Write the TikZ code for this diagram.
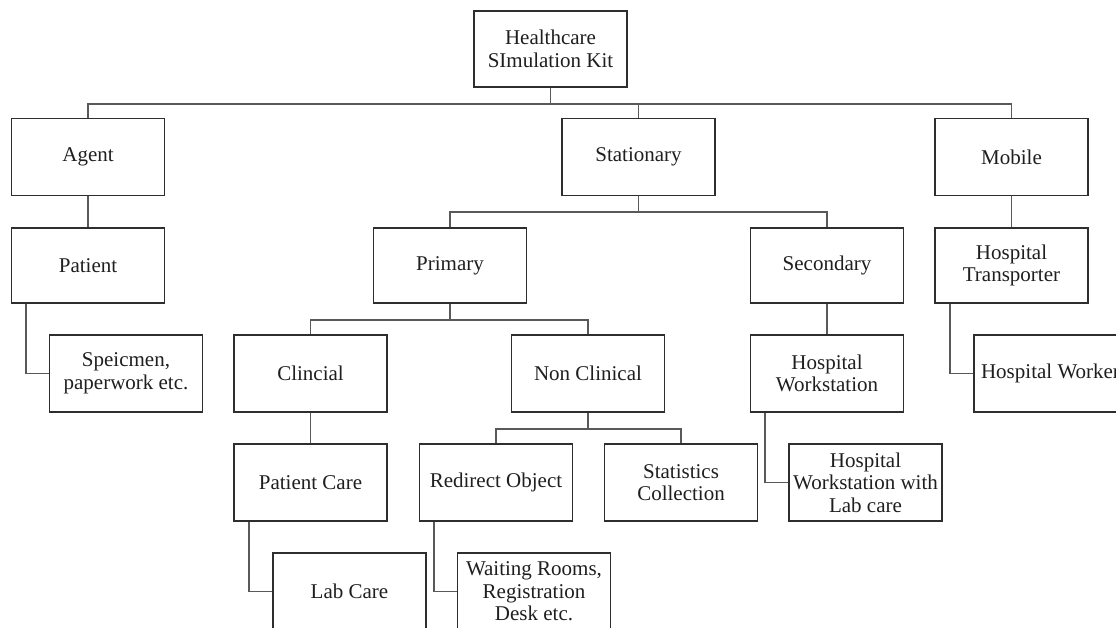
\documentclass[tikz,border=0pt]{standalone}
\usepackage{fontspec}
\setmainfont{Liberation Serif}
\begin{document}
\begin{tikzpicture}[x=1pt,y=-1pt,
  box/.style={draw=black!82,line width=1.5pt,fill=white,text=black!88,
    minimum width=153pt,minimum height=77pt,inner sep=0pt,align=center,
    font=\fontsize{21}{22.5}\selectfont},
  link/.style={draw=black!65,line width=1.7pt}]
\useasboundingbox (0,0) rectangle (1116,627);
\clip (0,0) rectangle (1116,627);
\fill[white] (0,0) rectangle (1116,627);
% nodes
\node[box,minimum height=76pt] (root) at (550.5,49) {Healthcare\\SImulation Kit};
\node[box] (agent) at (88,157) {Agent};
\node[box] (stat) at (638.5,157) {Stationary};
\node[box] (mobile) at (1011.5,157) {Mobile};
\node[box,minimum height=75pt] (patient) at (88,265.5) {Patient};
\node[box,minimum height=75pt] (primary) at (450,265.5) {Primary};
\node[box,minimum height=75pt] (secondary) at (827,265.5) {Secondary};
\node[box,minimum height=75pt] (transp) at (1011.5,265.5) {Hospital\\Transporter};
\node[box] (specimen) at (126,373.5) {Speicmen,\\paperwork etc.};
\node[box] (clin) at (310.5,373.5) {Clincial};
\node[box] (nonclin) at (588,373.5) {Non Clinical};
\node[box] (hw) at (827,373.5) {Hospital\\Workstation};
\node[box] (worker) at (1050.5,373.5) {Hospital Worker};
\node[box] (patcare) at (310.5,482.5) {Patient Care};
\node[box] (redirect) at (496,482.5) {Redirect Object};
\node[box] (stats) at (681,482.5) {Statistics\\Collection};
\node[box] (hwlab) at (865.5,482.5) {Hospital\\Workstation with\\Lab care};
\node[box] (labcare) at (349.5,591.5) {Lab Care};
\node[box] (waiting) at (534,591.5) {Waiting Rooms,\\Registration\\Desk etc.};
% bus coordinates
\coordinate (b0) at ([yshift=-16pt]root.south);
\coordinate (b1) at ([yshift=-16pt]stat.south);
\coordinate (b2) at ([yshift=-16pt]primary.south);
\coordinate (b3) at ([yshift=-16pt]nonclin.south);
% connectors
\draw[link] (root.south) -- (b0);
\draw[link] (agent.north) |- (b0) -| (mobile.north);
\draw[link] (stat.north) |- (b0);
\draw[link] (agent.south) -- (patient.north);
\draw[link] (mobile.south) -- (transp.north);
\draw[link] (stat.south) -- (b1);
\draw[link] (primary.north) |- (b1) -| (secondary.north);
\draw[link] (primary.south) -- (b2);
\draw[link] (clin.north) |- (b2) -| (nonclin.north);
\draw[link] (secondary.south) -- (hw.north);
\draw[link] (clin.south) -- (patcare.north);
\draw[link] (nonclin.south) -- (b3);
\draw[link] (redirect.north) |- (b3) -| (stats.north);
\draw[link] ([xshift=15pt]patient.south west) |- (specimen.west);
\draw[link] ([xshift=16pt]transp.south west) |- (worker.west);
\draw[link] ([xshift=15pt]hw.south west) |- (hwlab.west);
\draw[link] ([xshift=16pt]patcare.south west) |- (labcare.west);
\draw[link] ([xshift=15pt]redirect.south west) |- (waiting.west);
\end{tikzpicture}
\end{document}
